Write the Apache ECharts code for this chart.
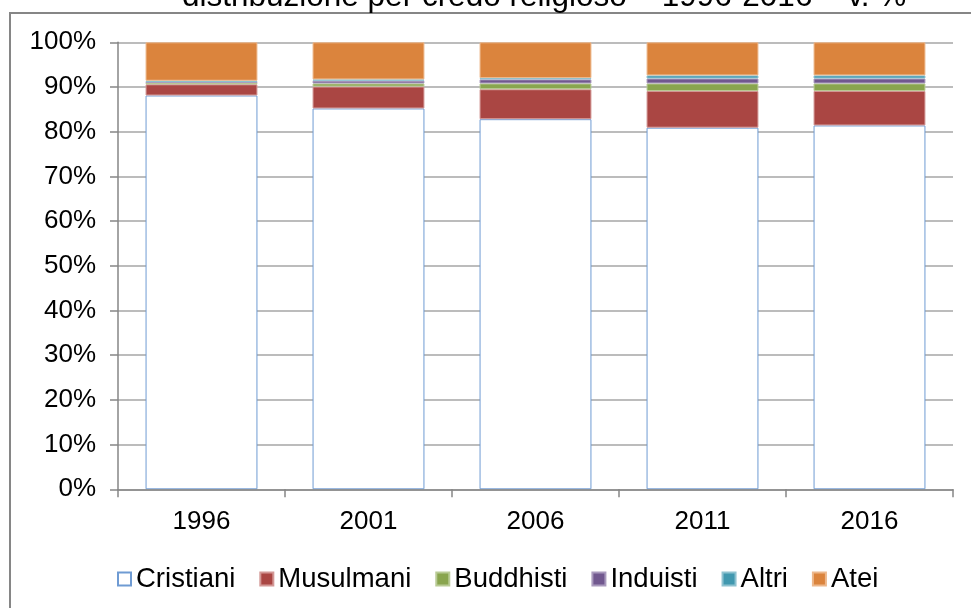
<!DOCTYPE html>
<html>
<head>
<meta charset="utf-8">
<script src="https://cdn.jsdelivr.net/npm/echarts@6/dist/echarts.min.js"></script>
<style>
  html, body { margin: 0; padding: 0; background: #fff; }
  #chart { width: 971px; height: 608px; }
</style>
</head>
<body>
<div id="chart"></div>
<script>
// anni
const years = ['1996', '2001', '2006', '2011', '2016'];

// quote percentuali per credo
const cristiani = [88.1, 85.2, 82.8, 80.9, 81.4];
const musulmani = [2.5, 4.9, 6.7, 8.2, 7.7];
const buddhisti = [0.4, 0.7, 1.3, 1.7, 1.7];
const induisti = [0.1, 0.6, 0.9, 1.1, 1.1];
const altri = [0.3, 0.3, 0.3, 0.7, 0.7];
const atei = [8.6, 8.3, 8.0, 7.4, 7.4];

const yTicks = [0, 10, 20, 30, 40, 50, 60, 70, 80, 90, 100];

const font = 'Arial, "Liberation Sans", sans-serif';

function bar(name, data, color, border) {
    return {
        name: name,
        type: 'bar',
        stack: 'tot',
        barWidth: '67%',
        data: data,
        itemStyle: { color: color, borderColor: border, borderWidth: 1 },
        emphasis: { disabled: true }
    };
}

const chart = echarts.init(document.getElementById('chart'));

chart.setOption({
    animation: false,
    title: {
        text: 'distribuzione per credo religioso – 1996-2016 – v. %',
        left: 177,
        top: -24,
        textStyle: { fontFamily: font, fontSize: 31.5, fontWeight: 'normal', color: '#000' }
    },
    graphic: [{
        type: 'rect',
        shape: { x: 10, y: 13, width: 1000, height: 700 },
        style: { fill: 'none', stroke: '#868686', lineWidth: 2 },
        z: -1
    }],
    grid: { left: 118, right: 18, top: 42.3, bottom: 118.7 },
    legend: {
        left: 112,
        top: 560,
        icon: 'rect',
        itemWidth: 13,
        itemHeight: 13,
        itemGap: 24,
        textStyle: { fontFamily: font, fontSize: 27.5, color: '#000' }
    },
    xAxis: {
        type: 'category',
        data: years,
        axisLine: { lineStyle: { color: '#868686', width: 1.5 } },
        axisTick: { show: true, length: 8, lineStyle: { color: '#868686', width: 1.5 } },
        axisLabel: { margin: 20, fontFamily: font, fontSize: 26, color: '#000' },
        z: 5
    },
    yAxis: {
        type: 'value',
        min: 0,
        max: 100,
        interval: 10,
        axisLine: { show: true, lineStyle: { color: '#868686', width: 1.5 } },
        axisTick: { show: true, length: 8, lineStyle: { color: '#868686', width: 1.5 } },
        axisLabel: {
            margin: 22,
            fontFamily: font,
            fontSize: 26,
            color: '#000',
            formatter: v => (yTicks.indexOf(v) >= 0 ? v + '%' : '')
        },
        splitLine: { lineStyle: { color: '#A6A6A6', width: 1.5 } }
    },
    series: [
        bar('Cristiani', cristiani, '#ffffff', '#6F9BD3'),
        bar('Musulmani', musulmani, '#AA4643', '#D39896'),
        bar('Buddhisti', buddhisti, '#89A54E', '#B9CB95'),
        bar('Induisti', induisti, '#71588F', '#A99ABD'),
        bar('Altri', altri, '#4198AF', '#8EC2D0'),
        bar('Atei', atei, '#DB843D', '#EDB88C')
    ]
});
</script>
</body>
</html>
